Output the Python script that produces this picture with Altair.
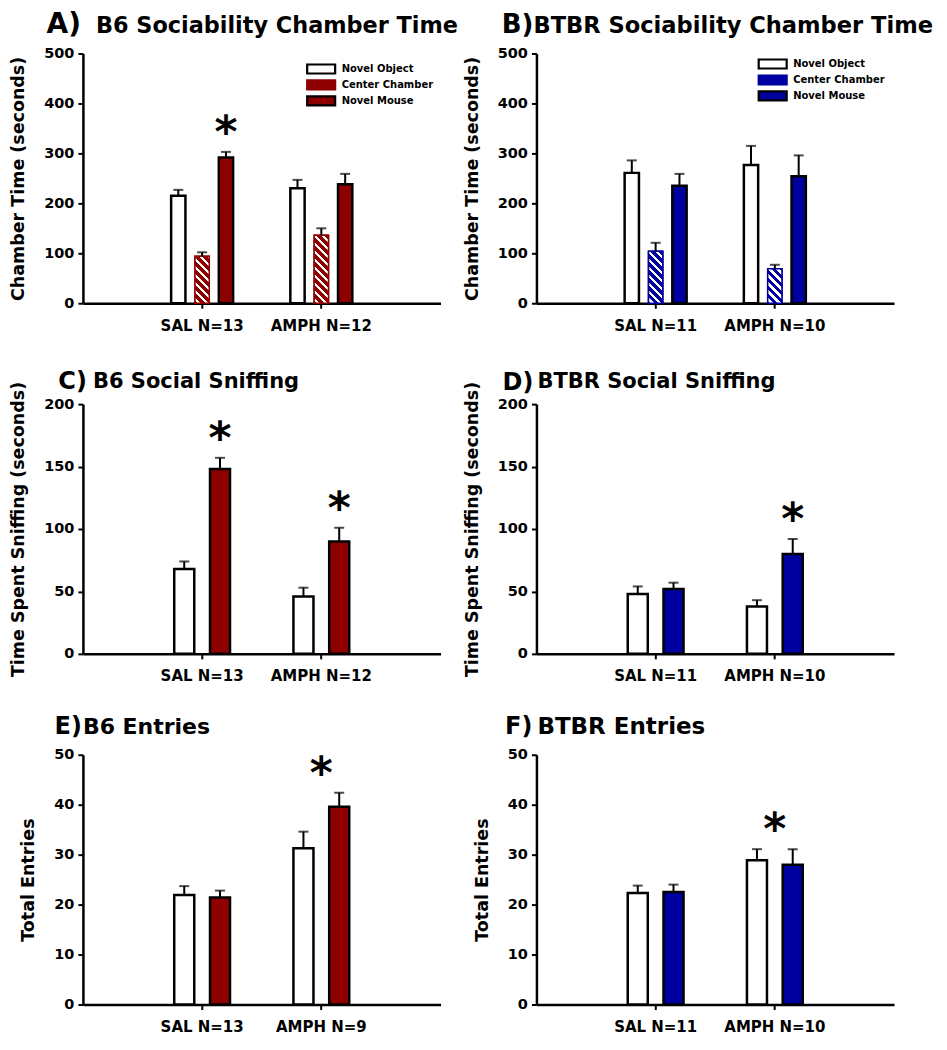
import altair as alt
import pandas as pd

FONT = "DejaVu Sans"
RED = "#8e0000"
BLUE = "#0000a0"

SERIES3 = ["Novel Object", "Center Chamber", "Novel Mouse"]
SERIES2 = ["Novel Object", "Novel Mouse"]

# ---- Panel A: B6 sociability chamber time (seconds) ----
A_GROUPS = ["SAL N=13", "AMPH N=12"]
A_OBJECT = [215, 230]
A_OBJECT_SEM = [12, 17]
A_CENTER = [94, 136]
A_CENTER_SEM = [8, 14]
A_MOUSE = [292, 238]
A_MOUSE_SEM = [11, 21]

# ---- Panel B: BTBR sociability chamber time (seconds) ----
B_GROUPS = ["SAL N=11", "AMPH N=10"]
B_OBJECT = [261, 277]
B_OBJECT_SEM = [25, 38]
B_CENTER = [104, 69]
B_CENTER_SEM = [17, 8]
B_MOUSE = [235, 254]
B_MOUSE_SEM = [24, 42]

# ---- Panel C: B6 social sniffing (seconds) ----
C_GROUPS = ["SAL N=13", "AMPH N=12"]
C_OBJECT = [68, 46]
C_OBJECT_SEM = [6, 7]
C_MOUSE = [148, 90]
C_MOUSE_SEM = [9, 11]

# ---- Panel D: BTBR social sniffing (seconds) ----
D_GROUPS = ["SAL N=11", "AMPH N=10"]
D_OBJECT = [48, 38]
D_OBJECT_SEM = [6, 5]
D_MOUSE = [52, 80]
D_MOUSE_SEM = [5, 12]

# ---- Panel E: B6 entries ----
E_GROUPS = ["SAL N=13", "AMPH N=9"]
E_OBJECT = [21.9, 31.3]
E_OBJECT_SEM = [1.8, 3.3]
E_MOUSE = [21.4, 39.6]
E_MOUSE_SEM = [1.4, 2.8]

# ---- Panel F: BTBR entries ----
F_GROUPS = ["SAL N=11", "AMPH N=10"]
F_OBJECT = [22.3, 28.9]
F_OBJECT_SEM = [1.5, 2.2]
F_MOUSE = [22.5, 28.0]
F_MOUSE_SEM = [1.5, 3.1]

# significance stars: (group index, series or None = over the group)
A_STARS = [(0, "Novel Mouse")]
B_STARS = []
C_STARS = [(0, "Novel Mouse"), (1, "Novel Mouse")]
D_STARS = [(1, "Novel Mouse")]
E_STARS = [(1, None)]
F_STARS = [(1, None)]

W, H = 358, 250
PI_X, PO_X = 0.4, 0.7


def stripe_stops(w, h, color, period=8.0, white=0.42):
    L = w + h
    stops = [(0.0, color)]
    pos = 0.3 * period
    while pos < L:
        a = round(pos / L, 5)
        b = round(min((pos + white * period) / L, 1.0), 5)
        stops += [(a, color), (a, "white"), (b, "white"), (b, color)]
        pos += period
    stops.append((1.0, color))
    r = h / w
    s = (1 + r) / (1 + r * r)
    return stops, round(s, 6), round(1 - s * r, 6)


def hatch_gradient(value, ymax, bar_w, color):
    h = max(value / ymax * H, 1.0)
    stops, x2, y2 = stripe_stops(bar_w, h, color)
    return alt.LinearGradient(gradient="linear",
                              stops=[alt.GradientStop(offset=o, color=c) for o, c in stops],
                              x1=0, y1=1, x2=x2, y2=y2)


def panel(letter, letter_size, letter_x, letter_y, title, title_size, title_x, title_y,
          ytitle, groups, series, values, sems, ymax, ystep, color, stars, legend_xy=None):
    rows = []
    for s, vals, errs in zip(series, values, sems):
        for g, v, e in zip(groups, vals, errs):
            rows.append({"group": g, "series": s, "value": v, "top": v + e})
    df = pd.DataFrame(rows)

    n = len(series)
    pi_o = 0.4 if n == 3 else 0.44
    xstep = W / (2 - PI_X + 2 * PO_X)
    bw = (1 - PI_X) * xstep
    bar_w = (1 - pi_o) * bw / n

    x = alt.X("group:N", scale=alt.Scale(domain=groups, paddingInner=PI_X, paddingOuter=PO_X),
              axis=alt.Axis(title=None, labelAngle=0, labelFont=FONT, labelFontSize=15,
                            labelFontWeight="bold", labelColor="black", labelPadding=10,
                            domainColor="black", domainWidth=2.5, tickColor="black",
                            tickWidth=2, tickSize=5, grid=False))
    xo = alt.XOffset("series:N", scale=alt.Scale(domain=series, paddingInner=pi_o,
                                                 paddingOuter=pi_o / 2))
    y = alt.Y("value:Q", scale=alt.Scale(domain=[0, ymax], nice=False),
              axis=alt.Axis(values=list(range(0, ymax + 1, ystep)), title=ytitle,
                            titleFont=FONT, titleFontSize=17.5, titleFontWeight="bold",
                            titleColor="black", titlePadding=16,
                            labelFont=FONT, labelFontSize=14.5, labelFontWeight="bold",
                            labelColor="black", labelPadding=4,
                            domainColor="black", domainWidth=2.5, tickColor="black",
                            tickWidth=2, tickSize=5, grid=False))

    if n == 3:
        fills = ["white", color, color]
        strokes = ["black", color, "black"]
    else:
        fills = ["white", color]
        strokes = ["black", "black"]

    if legend_xy is not None:
        leg = alt.Legend(title=None, orient="none", legendX=legend_xy[0], legendY=legend_xy[1],
                         symbolType="M-2.8,-0.9H2.8V0.9H-2.8Z", symbolSize=100,
                         symbolStrokeWidth=2.2, labelFont=FONT, labelFontSize=10,
                         labelFontWeight="bold", labelColor="black", labelOffset=14,
                         rowPadding=-3, padding=0)
    else:
        leg = None

    base = alt.Chart(df)
    bars = base.mark_bar().encode(
        x=x, xOffset=xo, y=y,
        fill=alt.Fill("series:N", scale=alt.Scale(domain=series, range=fills), legend=leg),
        stroke=alt.Stroke("series:N", scale=alt.Scale(domain=series, range=strokes), legend=leg),
        strokeWidth=alt.condition(alt.datum.series == "Center Chamber", alt.value(1.5), alt.value(2.5)),
    )
    layers = [bars]

    if n == 3:
        for g, v in zip(groups, values[1]):
            grad = hatch_gradient(v, ymax, bar_w, color)
            layers.append(
                base.transform_filter(
                    (alt.datum.series == "Center Chamber") & (alt.datum.group == g)
                ).mark_bar(fill=grad, stroke=color, strokeWidth=1.5).encode(x=x, xOffset=xo, y=y)
            )

    layers.append(base.mark_rule(color="black", strokeWidth=2).encode(
        x=x, xOffset=xo, y=y, y2="top:Q"))
    layers.append(base.mark_tick(color="black", thickness=2, size=10, orient="horizontal").encode(
        x=x, xOffset=xo, y=alt.Y("top:Q")))

    srows = []
    for gi, s in stars:
        g = groups[gi]
        if s is None:
            top = df[df.group == g]["top"].max()
        else:
            top = df[(df.group == g) & (df.series == s)]["top"].iloc[0]
        srows.append({"group": g, "series": s if s else "", "top": top, "star": "*",
                      "centered": s is None})
    if srows:
        sdf = pd.DataFrame(srows)
        star_mark = dict(font=FONT, fontSize=44, fontWeight="bold", color="black",
                         baseline="alphabetic", align="center", dy=-5)
        on_bar = sdf[~sdf.centered]
        centered = sdf[sdf.centered]
        if len(on_bar):
            layers.append(alt.Chart(on_bar).mark_text(**star_mark).encode(
                x=x, xOffset=xo, y=alt.Y("top:Q"), text="star:N"))
        if len(centered):
            layers.append(alt.Chart(centered).mark_text(**star_mark).encode(
                x=x, y=alt.Y("top:Q"), text="star:N"))

    layers.append(alt.Chart(pd.DataFrame({"t": [letter]})).mark_text(
        font=FONT, fontSize=letter_size, fontWeight="bold", color="black", align="right",
        baseline="alphabetic").encode(text="t:N", x=alt.value(letter_x), y=alt.value(letter_y)))
    layers.append(alt.Chart(pd.DataFrame({"t": [title]})).mark_text(
        font=FONT, fontSize=title_size, fontWeight="bold", color="black", align="left",
        baseline="alphabetic").encode(text="t:N", x=alt.value(title_x), y=alt.value(title_y)))

    return alt.layer(*layers).properties(width=W, height=H)


pA = panel("A)", 28, -2, -21, "B6 Sociability Chamber Time", 22.4, 13, -21,
           "Chamber Time (seconds)",
           A_GROUPS, SERIES3, [A_OBJECT, A_CENTER, A_MOUSE],
           [A_OBJECT_SEM, A_CENTER_SEM, A_MOUSE_SEM], 500, 100, RED, A_STARS, (232, 9))
pB = panel("B)", 26, -3, -21, "BTBR Sociability Chamber Time", 22.6, -3, -21,
           "Chamber Time (seconds)",
           B_GROUPS, SERIES3, [B_OBJECT, B_CENTER, B_MOUSE],
           [B_OBJECT_SEM, B_CENTER_SEM, B_MOUSE_SEM], 500, 100, BLUE, B_STARS, (230, 4))
pC = panel("C)", 24, 4, -15, "B6 Social Sniffing", 21, 10, -16,
           "Time Spent Sniffing (seconds)",
           C_GROUPS, SERIES2, [C_OBJECT, C_MOUSE], [C_OBJECT_SEM, C_MOUSE_SEM],
           200, 50, RED, C_STARS)
pD = panel("D)", 24, -3, -14, "BTBR Social Sniffing", 21, 1, -16,
           "Time Spent Sniffing (seconds)",
           D_GROUPS, SERIES2, [D_OBJECT, D_MOUSE], [D_OBJECT_SEM, D_MOUSE_SEM],
           200, 50, BLUE, D_STARS)
pE = panel("E)", 24, -1, -21, "B6 Entries", 22, 0, -21, "Total Entries",
           E_GROUPS, SERIES2, [E_OBJECT, E_MOUSE], [E_OBJECT_SEM, E_MOUSE_SEM],
           50, 10, RED, E_STARS)
pF = panel("F)", 24, -4, -21, "BTBR Entries", 23, 1, -21, "Total Entries",
           F_GROUPS, SERIES2, [F_OBJECT, F_MOUSE], [F_OBJECT_SEM, F_MOUSE_SEM],
           50, 10, BLUE, F_STARS)

chart = alt.concat(pA, pB, pC, pD, pE, pF, columns=2,
                   spacing={"row": 101, "column": 96}, bounds="flush").resolve_scale(
    fill="independent", stroke="independent", x="independent", y="independent",
    xOffset="independent").resolve_legend(fill="independent", stroke="independent").configure_view(
    stroke=None).properties(padding={"left": 1, "top": 2, "right": 5, "bottom": 0})

chart.save("out.html", embed_options={"renderer": "svg", "actions": False})
